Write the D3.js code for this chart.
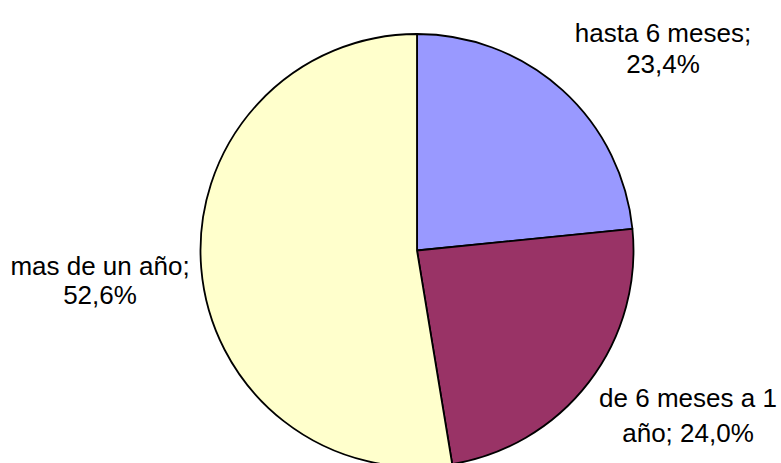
<!DOCTYPE html>
<html><head><meta charset="utf-8">
<script src="https://cdn.jsdelivr.net/npm/d3@7"></script>
<style>html,body{margin:0;padding:0;background:#fff;overflow:hidden}</style>
</head><body>
<svg id="c" width="781" height="463"></svg>
<script>
const categories = ["hasta 6 meses", "de 6 meses a 1 año", "mas de un año"];
const values = [23.4, 24.0, 52.6];
const colors = ["#9999FF", "#993366", "#FFFFCC"];
const labelLines = [["hasta 6 meses;", "23,4%"], ["de 6 meses a 1", "año; 24,0%"], ["mas de un año;", "52,6%"]];

const svg = d3.select("#c");
const cx = 417, cy = 250.5, r = 216.5;
const g = svg.append("g").attr("transform", `translate(${cx},${cy})`);
const pie = d3.pie().sort(null).value(d => d)(values);
const arc = d3.arc().innerRadius(0).outerRadius(r);
g.selectAll("path").data(pie).join("path")
  .attr("d", arc)
  .attr("fill", (d, i) => colors[i])
  .attr("stroke", "#000").attr("stroke-width", 1.8).attr("stroke-linejoin", "round");

const labelPos = [[663, 42, 73], [688, 407, 442], [100, 275, 304]];
labelLines.forEach((lines, i) => {
  const [x, y1, y2] = labelPos[i];
  const t = svg.append("text").attr("text-anchor", "middle")
    .attr("font-family", "Liberation Sans, Arial, sans-serif").attr("font-size", 26).attr("fill", "#000");
  t.append("tspan").attr("x", x).attr("y", y1).text(lines[0]);
  t.append("tspan").attr("x", x).attr("y", y2).text(lines[1]);
});
</script>
</body></html>
